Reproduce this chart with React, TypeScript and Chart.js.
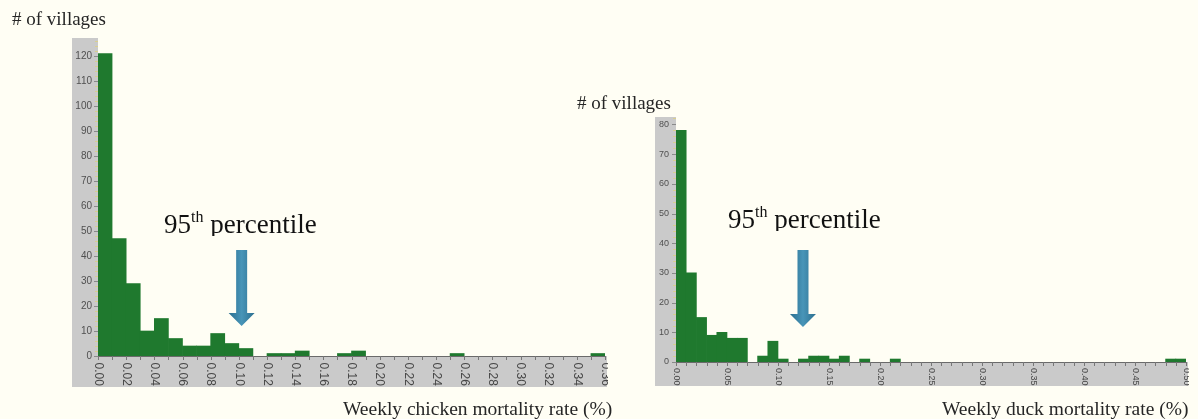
import React, { useEffect, useRef } from "react";
import { Chart, registerables } from "chart.js";

Chart.register(...registerables);

// ---- Data ----
const chickenBinStarts = [
  0.0, 0.01, 0.02, 0.03, 0.04, 0.05, 0.06, 0.07, 0.08, 0.09,
  0.1, 0.11, 0.12, 0.13, 0.14, 0.15, 0.16, 0.17, 0.18, 0.19,
  0.2, 0.21, 0.22, 0.23, 0.24, 0.25, 0.26, 0.27, 0.28, 0.29,
  0.3, 0.31, 0.32, 0.33, 0.34, 0.35,
];
const chickenCounts = [
  121, 47, 29, 10, 15, 7, 4, 4, 9, 5,
  3, 0, 1, 1, 2, 0, 0, 1, 2, 0,
  0, 0, 0, 0, 0, 1, 0, 0, 0, 0,
  0, 0, 0, 0, 0, 1,
];
const chickenTickLabels = [
  "0.00", "0.02", "0.04", "0.06", "0.08", "0.10", "0.12", "0.14", "0.16",
  "0.18", "0.20", "0.22", "0.24", "0.26", "0.28", "0.30", "0.32", "0.34", "0.36",
];
const chickenYTicks = [0, 10, 20, 30, 40, 50, 60, 70, 80, 90, 100, 110, 120];

const duckBinStarts = [
  0.0, 0.01, 0.02, 0.03, 0.04, 0.05, 0.06, 0.07, 0.08, 0.09,
  0.1, 0.11, 0.12, 0.13, 0.14, 0.15, 0.16, 0.17, 0.18, 0.19,
  0.2, 0.21, 0.22, 0.23, 0.24, 0.25, 0.26, 0.27, 0.28, 0.29,
  0.3, 0.31, 0.32, 0.33, 0.34, 0.35, 0.36, 0.37, 0.38, 0.39,
  0.4, 0.41, 0.42, 0.43, 0.44, 0.45, 0.46, 0.47, 0.48, 0.49,
];
const duckCounts = [
  78, 30, 15, 9, 10, 8, 8, 0, 2, 7,
  1, 0, 1, 2, 2, 1, 2, 0, 1, 0,
  0, 1, 0, 0, 0, 0, 0, 0, 0, 0,
  0, 0, 0, 0, 0, 0, 0, 0, 0, 0,
  0, 0, 0, 0, 0, 0, 0, 0, 1, 1,
];
const duckTickLabels = [
  "0.00", "0.05", "0.10", "0.15", "0.20", "0.25",
  "0.30", "0.35", "0.40", "0.45", "0.50",
];
const duckYTicks = [0, 10, 20, 30, 40, 50, 60, 70, 80];

// 95th percentile arrows (x position, arrow top and tip in counts)
const chicken95th = { x: 0.102, top: 42.4, tip: 12 };
const duck95th = { x: 0.1245, top: 37.7, tip: 11.8 };

const BAR_GREEN = "#1f792e";
const PANEL_GREY = "#cacaca";
const PAGE_BG = "#fffef4";
const SANS = '"Liberation Sans", Arial, sans-serif';
const SERIF = '"Liberation Serif", "Times New Roman", serif';

const histPlugin = {
  id: "hist",
  beforeDraw(chart: any, _args: any, opts: any) {
    const { ctx, chartArea } = chart;
    const xs = chart.scales.x;
    const ys = chart.scales.y;
    ctx.save();
    ctx.fillStyle = PANEL_GREY;
    ctx.fillRect(ys.left, chartArea.top, ys.right - ys.left, xs.bottom - chartArea.top);
    ctx.fillRect(ys.left, xs.top, chartArea.right + 2 - ys.left, xs.bottom - xs.top);
    // y minor ticks
    ctx.strokeStyle = "#d9cf8e";
    ctx.lineWidth = 1;
    for (let v = 0; v <= opts.yMax; v += opts.yMinor) {
      const py = Math.round(ys.getPixelForValue(v)) + 0.5;
      ctx.beginPath();
      ctx.moveTo(chartArea.left - 3, py);
      ctx.lineTo(chartArea.left, py);
      ctx.stroke();
    }
    // y major ticks
    ctx.strokeStyle = "#8a8a8a";
    for (const v of opts.yTicks) {
      const py = Math.round(ys.getPixelForValue(v)) + 0.5;
      ctx.beginPath();
      ctx.moveTo(chartArea.left - 4, py);
      ctx.lineTo(chartArea.left, py);
      ctx.stroke();
    }
    // x axis line
    ctx.strokeStyle = "#6a6a6a";
    ctx.beginPath();
    ctx.moveTo(chartArea.left, Math.round(chartArea.bottom) + 0.5);
    ctx.lineTo(chartArea.right, Math.round(chartArea.bottom) + 0.5);
    ctx.stroke();
    ctx.restore();
  },
  afterDatasetsDraw(chart: any, _args: any, opts: any) {
    const { ctx, chartArea } = chart;
    const xs = chart.scales.x;
    const ys = chart.scales.y;
    ctx.save();
    // x minor ticks
    ctx.strokeStyle = "#777";
    ctx.lineWidth = 1;
    const n = Math.round(opts.xMax / opts.binWidth);
    for (let i = 0; i <= n; i++) {
      const px = Math.round(xs.getPixelForValue(i * opts.binWidth)) + 0.5;
      ctx.beginPath();
      ctx.moveTo(px, xs.top);
      ctx.lineTo(px, xs.top + 4);
      ctx.stroke();
    }
    // x labels rotated clockwise
    ctx.fillStyle = "#474747";
    ctx.font = `${opts.xFont}px ${SANS}`;
    ctx.textAlign = "left";
    ctx.textBaseline = "middle";
    ctx.beginPath();
    ctx.rect(xs.left - 10, xs.top, chartArea.right + 3 - (xs.left - 10), xs.bottom - xs.top);
    ctx.clip();
    for (const lab of opts.tickLabels) {
      const px = xs.getPixelForValue(parseFloat(lab));
      ctx.save();
      ctx.translate(px, xs.top + opts.xLabelGap);
      ctx.rotate(Math.PI / 2);
      ctx.fillText(lab, 0, 0);
      ctx.restore();
    }
    ctx.restore();

    // arrow
    const a = opts.arrow;
    const cx = xs.getPixelForValue(a.x);
    const yTop = ys.getPixelForValue(a.top);
    const yTip = ys.getPixelForValue(a.tip);
    const sw = 11;
    const hw = 26;
    const hh = 13;
    ctx.save();
    const grad = ctx.createLinearGradient(cx - hw / 2, 0, cx + hw / 2, 0);
    grad.addColorStop(0, "#2c6f8f");
    grad.addColorStop(0.5, "#4895b8");
    grad.addColorStop(1, "#2c6f8f");
    ctx.fillStyle = grad;
    ctx.beginPath();
    ctx.moveTo(cx - sw / 2, yTop);
    ctx.lineTo(cx + sw / 2, yTop);
    ctx.lineTo(cx + sw / 2, yTip - hh);
    ctx.lineTo(cx + hw / 2, yTip - hh);
    ctx.lineTo(cx, yTip);
    ctx.lineTo(cx - hw / 2, yTip - hh);
    ctx.lineTo(cx - sw / 2, yTip - hh);
    ctx.closePath();
    ctx.fill();
    ctx.restore();
  },
};

type HistProps = {
  starts: number[];
  counts: number[];
  binWidth: number;
  xMax: number;
  yMax: number;
  yTicks: number[];
  yMinor: number;
  tickLabels: string[];
  arrow: { x: number; top: number; tip: number };
  width: number;
  height: number;
  left: number;
  padding: { left: number; top: number; right: number; bottom: number };
  yWidth: number;
  xHeight: number;
  xFont: number;
  yFont: number;
  yPad: number;
  xLabelGap: number;
};

function Histogram(p: HistProps) {
  const ref = useRef<HTMLCanvasElement | null>(null);
  useEffect(() => {
    if (!ref.current) return;
    const data = p.starts.map((s, i) => ({ x: s + p.binWidth / 2, y: p.counts[i] }));
    const chart = new Chart(ref.current, {
      type: "bar",
      data: {
        datasets: [
          {
            data,
            backgroundColor: (c: any) => (c.raw && c.raw.y === 0 ? "rgba(0,0,0,0)" : BAR_GREEN),
            borderWidth: 0,
            barPercentage: 1,
            categoryPercentage: 1,
          } as any,
        ],
      },
      options: {
        responsive: false,
        maintainAspectRatio: false,
        devicePixelRatio: 1,
        animation: false,
        events: [],
        layout: { padding: p.padding },
        plugins: {
          legend: { display: false },
          tooltip: { enabled: false },
          hist: {
            xMax: p.xMax,
            binWidth: p.binWidth,
            yMax: p.yMax,
            yTicks: p.yTicks,
            yMinor: p.yMinor,
            tickLabels: p.tickLabels,
            arrow: p.arrow,
            xFont: p.xFont,
            xLabelGap: p.xLabelGap,
          },
        } as any,
        scales: {
          x: {
            type: "linear",
            min: 0,
            max: p.xMax,
            offset: false,
            grid: { display: false, drawTicks: false },
            border: { display: false },
            ticks: { display: false },
            afterFit: (s: any) => {
              s.height = p.xHeight;
            },
          },
          y: {
            min: 0,
            max: p.yMax,
            grid: { display: false, drawTicks: false, tickLength: 0 },
            border: { display: false },
            ticks: {
              color: "#505050",
              padding: p.yPad,
              font: { family: SANS, size: p.yFont },
            },
            afterBuildTicks: (s: any) => {
              s.ticks = p.yTicks.map((v) => ({ value: v }));
            },
            afterFit: (s: any) => {
              s.width = p.yWidth;
            },
          },
        },
      },
      plugins: [histPlugin as any],
    });
    return () => chart.destroy();
  }, []);
  return (
    <canvas
      ref={ref}
      width={p.width}
      height={p.height}
      style={{ position: "absolute", left: p.left, top: 0, width: p.width, height: p.height }}
    />
  );
}

const textBase: React.CSSProperties = {
  position: "absolute",
  fontFamily: SERIF,
  color: "#262626",
  whiteSpace: "nowrap",
};

function Percentile({ left, top }: { left: number; top: number }) {
  return (
    <div
      style={{
        ...textBase,
        left,
        top,
        fontSize: 27,
        lineHeight: "27px",
        height: 25,
        overflow: "hidden",
        color: "#111",
      }}
    >
      95
      <span style={{ fontSize: 16, position: "relative", top: -11, lineHeight: 0 }}>th</span>{" "}
      percentile
    </div>
  );
}

export default function App() {
  return (
    <div
      style={{
        position: "fixed",
        left: 0,
        top: 0,
        width: 1198,
        height: 419,
        background: PAGE_BG,
        overflow: "hidden",
      }}
    >
      <Histogram
        starts={chickenBinStarts}
        counts={chickenCounts}
        binWidth={0.01}
        xMax={0.36}
        yMax={127.2}
        yTicks={chickenYTicks}
        yMinor={2}
        tickLabels={chickenTickLabels}
        arrow={chicken95th}
        width={625}
        height={419}
        left={0}
        padding={{ left: 72, top: 38, right: 20, bottom: 32 }}
        yWidth={26}
        xHeight={31}
        xFont={12}
        yFont={10}
        yPad={6}
        xLabelGap={6.5}
      />
      <Histogram
        starts={duckBinStarts}
        counts={duckCounts}
        binWidth={0.01}
        xMax={0.5}
        yMax={82.5}
        yTicks={duckYTicks}
        yMinor={2}
        tickLabels={duckTickLabels}
        arrow={duck95th}
        width={638}
        height={419}
        left={560}
        padding={{ left: 95, top: 117, right: 12, bottom: 33 }}
        yWidth={21}
        xHeight={24}
        xFont={9}
        yFont={9}
        yPad={7}
        xLabelGap={6}
      />
      <div style={{ ...textBase, left: 12, top: 9, fontSize: 19, lineHeight: "19px" }}># of villages</div>
      <div style={{ ...textBase, left: 577, top: 93, fontSize: 19, lineHeight: "19px" }}># of villages</div>
      <Percentile left={164} top={211} />
      <Percentile left={728} top={206} />
      <div style={{ ...textBase, left: 343, top: 399, fontSize: 19.5, lineHeight: "19.5px" }}>
        Weekly chicken mortality rate (%)
      </div>
      <div style={{ ...textBase, left: 942, top: 399, fontSize: 19.5, lineHeight: "19.5px" }}>
        Weekly duck mortality rate (%)
      </div>
    </div>
  );
}
